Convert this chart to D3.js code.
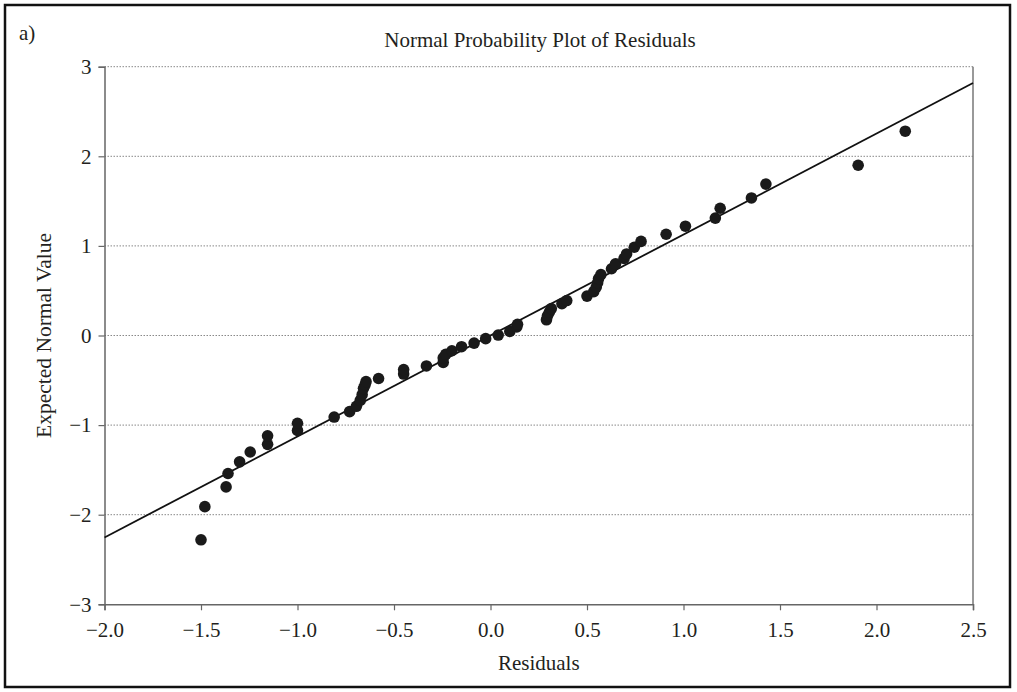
<!DOCTYPE html>
<html>
<head>
<meta charset="utf-8">
<script src="https://cdn.jsdelivr.net/npm/d3@7"></script>
<style>
  body { margin: 0; background: #fff; }
  svg text { font-family: "Liberation Serif", "DejaVu Serif", serif; fill: #231f20; }
</style>
</head>
<body>
<div id="chart"></div>
<script>
// residuals (x) and their expected normal values (y)
var residuals = [
  -1.50, -1.48, -1.37, -1.36, -1.30, -1.245, -1.155, -1.155, -1.00, -1.00,
  -0.81, -0.73, -0.695, -0.675, -0.665, -0.658, -0.65, -0.645, -0.58, -0.45,
  -0.45, -0.332, -0.245, -0.245, -0.232, -0.20, -0.15, -0.085, -0.025, 0.04,
  0.10, 0.136, 0.14, 0.29, 0.295, 0.305, 0.315, 0.37, 0.395, 0.50,
  0.535, 0.548, 0.555, 0.56, 0.572, 0.627, 0.648, 0.692, 0.705, 0.745,
  0.78, 0.91, 1.01, 1.165, 1.19, 1.352, 1.427, 1.905, 2.149
];
var expected = [
  -2.28, -1.91, -1.69, -1.54, -1.41, -1.30, -1.215, -1.12, -1.06, -0.98,
  -0.91, -0.85, -0.79, -0.725, -0.66, -0.59, -0.55, -0.515, -0.48, -0.43,
  -0.38, -0.34, -0.30, -0.25, -0.21, -0.17, -0.125, -0.085, -0.035, 0.005,
  0.045, 0.095, 0.125, 0.175, 0.22, 0.26, 0.30, 0.355, 0.39, 0.44,
  0.49, 0.54, 0.59, 0.635, 0.68, 0.745, 0.80, 0.86, 0.91, 0.985,
  1.05, 1.13, 1.22, 1.31, 1.42, 1.535, 1.69, 1.90, 2.28
];
var xTicks = [-2.0, -1.5, -1.0, -0.5, 0.0, 0.5, 1.0, 1.5, 2.0, 2.5];
var yTicks = [-3, -2, -1, 0, 1, 2, 3];
var fitSlope = 1.127;   // reference line through the origin

var W = 1017, H = 692;
var margin = { top: 66.7, right: 44, bottom: 87.7, left: 104.5 };
var width = W - margin.left - margin.right;
var height = H - margin.top - margin.bottom;

var root = d3.select("#chart").append("svg")
  .attr("width", W).attr("height", H);

// frame
root.append("rect")
  .attr("x", 5).attr("y", 5)
  .attr("width", 1005).attr("height", 682)
  .attr("fill", "none").attr("stroke", "#111").attr("stroke-width", 2.5);

root.append("text").attr("x", 19).attr("y", 40)
  .style("font-size", "21px").text("a)");

root.append("text").attr("x", 540).attr("y", 47)
  .attr("text-anchor", "middle").style("font-size", "21px")
  .text("Normal Probability Plot of Residuals");

var svg = root.append("g")
  .attr("transform", "translate(" + margin.left + "," + margin.top + ")");

var x = d3.scaleLinear().domain([-2, 2.5]).range([0, width]);
var y = d3.scaleLinear().domain([-3, 3]).range([height, 0]);

// dotted gridlines
svg.append("g").selectAll("line")
  .data(yTicks.filter(function (d) { return d > -3; }))
  .enter().append("line")
  .attr("x1", 0).attr("x2", width)
  .attr("y1", function (d) { return y(d); })
  .attr("y2", function (d) { return y(d); })
  .attr("stroke", "#888").attr("stroke-width", 1)
  .style("stroke-dasharray", "1.5,1.5");

// right edge of plot
svg.append("line")
  .attr("x1", width).attr("x2", width).attr("y1", 0).attr("y2", height)
  .attr("stroke", "#777").attr("stroke-width", 1.5);

var yAxis = svg.append("g")
  .call(d3.axisLeft(y).tickValues(yTicks).tickSize(6).tickPadding(7).tickFormat(d3.format("d")));
var xAxis = svg.append("g")
  .attr("transform", "translate(0," + height + ")")
  .call(d3.axisBottom(x).tickValues(xTicks).tickSize(6).tickPadding(12).tickFormat(d3.format(".1f")));

[xAxis, yAxis].forEach(function (a) {
  a.select(".domain").attr("stroke", "#666").attr("stroke-width", 1.5);
  a.selectAll(".tick line").attr("stroke", "#666").attr("stroke-width", 1.2);
  a.selectAll(".tick text")
    .style("font-family", '"Liberation Serif", serif')
    .style("font-size", "21px").attr("fill", "#231f20");
});

// axis titles
svg.append("text")
  .attr("x", width / 2).attr("y", height + 66)
  .attr("text-anchor", "middle").style("font-size", "21px")
  .text("Residuals");

svg.append("text")
  .attr("transform", "rotate(-90)")
  .attr("x", -height / 2).attr("y", -54)
  .attr("text-anchor", "middle").style("font-size", "21.5px")
  .text("Expected Normal Value");

// fitted line
svg.append("path")
  .datum(x.domain())
  .attr("d", d3.line()
    .x(function (d) { return x(d); })
    .y(function (d) { return y(fitSlope * d); }))
  .attr("stroke", "#111").attr("stroke-width", 1.8).attr("fill", "none");

// points
svg.selectAll("circle")
  .data(residuals.map(function (r, i) { return { r: r, e: expected[i] }; }))
  .enter().append("circle")
  .attr("cx", function (d) { return x(d.r); })
  .attr("cy", function (d) { return y(d.e); })
  .attr("r", 5.8)
  .attr("fill", "#1a1a1a");
</script>
</body>
</html>
